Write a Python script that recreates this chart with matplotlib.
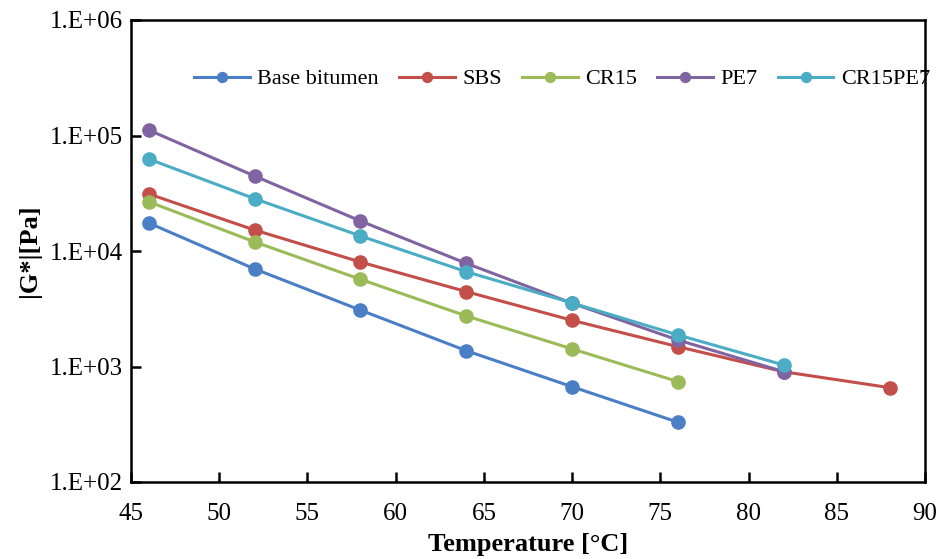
import matplotlib
matplotlib.use("Agg")
import matplotlib.pyplot as plt
from matplotlib.ticker import FixedLocator, NullLocator

plt.rcParams['font.family'] = ['Liberation Serif', 'DejaVu Serif']

# test temperatures per binder
temp_base = [46, 52, 58, 64, 70, 76]
temp_sbs = [46, 52, 58, 64, 70, 76, 82, 88]
temp_cr15 = [46, 52, 58, 64, 70, 76]
temp_pe7 = [46, 52, 58, 64, 70, 76, 82]
temp_cr15pe7 = [46, 52, 58, 64, 70, 76, 82]

# |G*| in Pa
g_base = [17500, 7000, 3080, 1370, 668, 329]
g_sbs = [31200, 15200, 8030, 4450, 2510, 1485, 900, 656]
g_cr15 = [26700, 12000, 5690, 2740, 1420, 740]
g_pe7 = [111600, 44600, 18200, 7820, 3530, 1695, 902]
g_cr15pe7 = [62600, 28400, 13500, 6620, 3550, 1875, 1030]

names = ['Base bitumen', 'SBS', 'CR15', 'PE7', 'CR15PE7']
colors = ['#4A7EC5', '#C44E4A', '#9BBB59', '#8064A2', '#4BACC6']
series = [(temp_base, g_base), (temp_sbs, g_sbs), (temp_cr15, g_cr15),
          (temp_pe7, g_pe7), (temp_cr15pe7, g_cr15pe7)]

yticks = [1e2, 1e3, 1e4, 1e5, 1e6]
ytick_labels = ['1.E+02', '1.E+03', '1.E+04', '1.E+05', '1.E+06']
xticks = [45, 50, 55, 60, 65, 70, 75, 80, 85, 90]

fig = plt.figure(figsize=(9.43, 5.59), dpi=100)
ax = fig.add_axes([131/943, 1 - 482/559, (925-131)/943, (482-20)/559])

for (t, g), name, c in zip(series, names, colors):
    ax.plot(t, g, '-o', color=c, lw=2.2, ms=9.5, label=name)

ax.set_yscale('log')
ax.set_xlim(45, 90)
ax.set_ylim(1e2, 1e6)
ax.yaxis.set_major_locator(FixedLocator(yticks))
ax.yaxis.set_minor_locator(NullLocator())
ax.set_yticklabels(ytick_labels)
ax.set_xticks(xticks)

ax.tick_params(direction='in', length=7, width=1.8, labelsize=18, pad=6)
ax.tick_params(axis='x', pad=15)
for s in ax.spines.values():
    s.set_linewidth(1.8)

ax.set_xlabel('Temperature [°C]', fontsize=19, fontweight='bold', labelpad=6)
ax.set_ylabel('|G*|[Pa]', fontsize=19, fontweight='bold', labelpad=6)

ax.legend(loc='center', bbox_to_anchor=(0.543, 0.872), ncol=5, frameon=False,
          fontsize=16, markerscale=0.75, handlelength=2.5, handletextpad=0.35,
          columnspacing=0.9, borderaxespad=0)

fig.savefig('out.png', dpi=100)
